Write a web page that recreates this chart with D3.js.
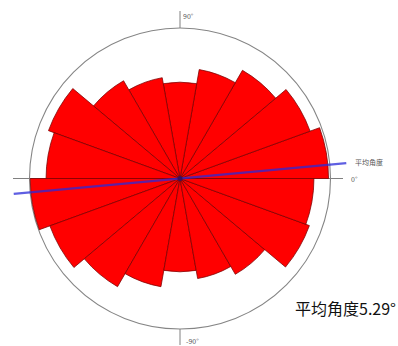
<!DOCTYPE html>
<html><head><meta charset="utf-8">
<script src="https://cdn.jsdelivr.net/npm/d3@7"></script>
<style>html,body{margin:0;padding:0;background:#fff;}</style>
</head><body>
<svg id="chart" width="398" height="346"></svg>
<script>
// bin start angles (degrees, counter-clockwise from 0°), 20° bins
const binStarts = [0,20,40,60,80,100,120,140,160,180,200,220,240,260,280,300,320,340];
// relative frequency per bin (outer circle = 100)
const binValues = [98.7,92,83,73.5,64,68,75,93,89,99.5,92,83,73,62,67.5,73.5,91.5,89];
const binWidth = 20;
const meanAngle = 5.29;
const axisLabels = ["90°","0°","-90°"];
const meanLabel = "平均角度";
const meanText = "平均角度5.29°";

const svg = d3.select("#chart");
const cx = 180, cy = 178.5, R = 150.5;
const r = d3.scaleLinear().domain([0, 100]).range([0, R]);
const toRad = d3.scaleLinear().domain([0, 360]).range([0, 2 * Math.PI]);

const g = svg.append("g").attr("transform", `translate(${cx},${cy})`);

// axis lines
g.append("line").attr("x1", -167).attr("x2", 163).attr("y1", 0).attr("y2", 0)
  .attr("stroke", "#808080").attr("stroke-width", 1);
g.append("line").attr("x1", 0).attr("x2", 0).attr("y1", -R).attr("y2", -R - 17)
  .attr("stroke", "#808080").attr("stroke-width", 1);
g.append("line").attr("x1", 0).attr("x2", 0).attr("y1", R).attr("y2", R + 16)
  .attr("stroke", "#808080").attr("stroke-width", 1);
// outer circle
g.append("circle").attr("r", R).attr("fill", "none")
  .attr("stroke", "#858585").attr("stroke-width", 1.1);

// wedges
const arc = d3.arc().innerRadius(0);
g.selectAll("path.bin").data(binStarts.map((s, i) => ({s, v: binValues[i]})))
  .join("path").attr("class", "bin")
  .attr("d", d => arc({
    outerRadius: r(d.v),
    startAngle: toRad(90 - (d.s + binWidth)),
    endAngle: toRad(90 - d.s)
  }))
  .attr("fill", "#ff0000")
  .attr("stroke", "#7a0000").attr("stroke-width", 0.75).attr("stroke-linejoin", "miter");

// mean direction line
const L = 167;
const a = toRad(meanAngle);
g.append("line")
  .attr("x1", -L * Math.cos(a)).attr("y1", L * Math.sin(a))
  .attr("x2", L * Math.cos(a)).attr("y2", -L * Math.sin(a))
  .attr("stroke", "#2a2ad8").attr("stroke-opacity", 0.75).attr("stroke-width", 2.2);
g.append("circle").attr("r", 2.5).attr("fill", "#3a1060");

// labels
const lab = svg.append("g").attr("font-family", "Noto Sans CJK SC, Noto Sans, sans-serif")
  .attr("fill", "#555").attr("font-size", 7);
lab.append("text").attr("x", cx + 3).attr("y", 19).text(axisLabels[0]);
lab.append("text").attr("x", cx + 171).attr("y", cy + 3).text(axisLabels[1]);
lab.append("text").attr("x", cx + 6).attr("y", 344).text(axisLabels[2]);
lab.append("text").attr("x", cx + 175).attr("y", cy - 14).text(meanLabel);

svg.append("text").attr("x", 295).attr("y", 315)
  .attr("font-family", "Noto Sans CJK SC, Noto Sans, sans-serif")
  .attr("font-size", 16).attr("fill", "#111").text(meanText);
</script>
</body></html>
